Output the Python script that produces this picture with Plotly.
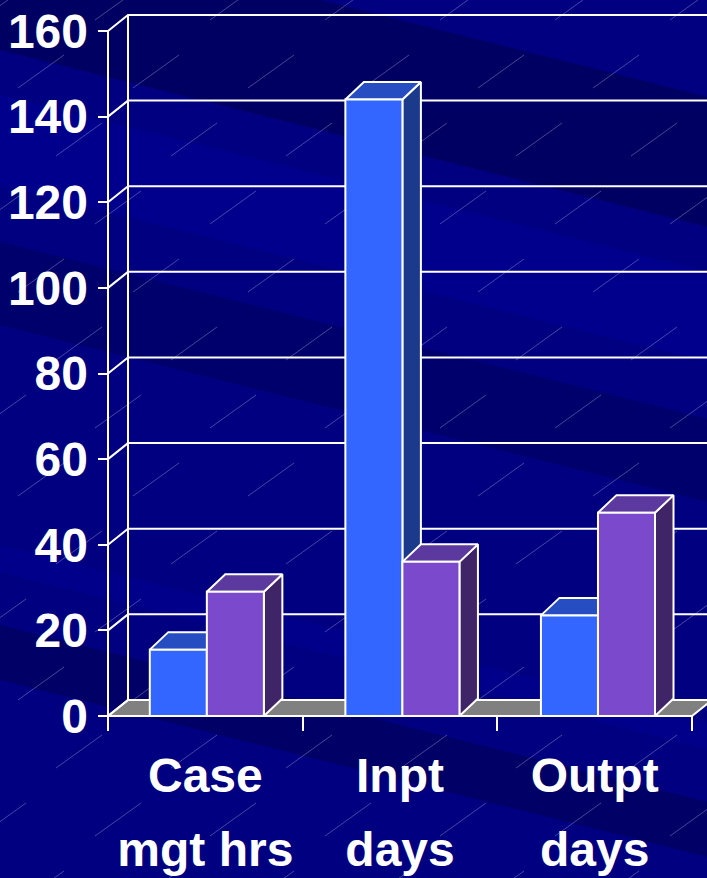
import plotly.graph_objects as go

# ---------------- data ----------------
cat_line1 = ["Case", "Inpt", "Outpt"]
cat_line2 = ["mgt hrs", "days", "days"]
series_a = [15.5, 144, 23.5]   # blue bars
series_b = [29, 36, 47.5]      # purple bars
y_ticks = [0, 20, 40, 60, 80, 100, 120, 140, 160]
y_tick_labels = [str(v) for v in y_ticks]

# ---------------- geometry (data units) ----------------
PX_X = 194.67        # px per category unit
PX_Y = 4.28125       # px per value unit
W_L, W_R, W_T, W_B = 98, 0, 0, 147
FIG_W, FIG_H = 707, 878
x_min = -0.5 - 10 / PX_X
x_max = x_min + (FIG_W - W_L - W_R) / PX_X
y_min = -15 / PX_Y
y_max = y_min + (FIG_H - W_T - W_B) / PX_Y

BAR_W = 0.293
BAR_SHIFT = 1.5 / PX_X
DXB, DYB = 18.5 / PX_X, 17.5 / PX_Y   # bar depth
DXW, DYW = 20 / PX_X, 16 / PX_Y       # wall depth
LEFT, RIGHT = -0.5, 2.5
TOP = y_ticks[-1]

BLUE = dict(front="#3366FF", top="#264DC2", side="#1C3A8C")
PURPLE = dict(front="#7B49CC", top="#5B399E", side="#3F2468")

fig = go.Figure()

# ---------------- background (paper-pixel helpers) ----------------
def px(xp):
    return (xp - W_L) / (FIG_W - W_L - W_R)

def py(yp):
    return (FIG_H - W_B - yp) / (FIG_H - W_T - W_B)

shapes = []
slope = 0.25
bands = [(-80, 50, "#000062"), (95, 185, "#00008C"), (242, 325, "#00006C"),
         (545, 572, "#00008A"), (625, 680, "#000066")]
for y0, y1, col in bands:
    path = (f"M {px(0)} {py(y0)} L {px(FIG_W)} {py(y0 + slope * FIG_W)} "
            f"L {px(FIG_W)} {py(y1 + slope * FIG_W)} L {px(0)} {py(y1)} Z")
    shapes.append(dict(type="path", path=path, xref="paper", yref="paper",
                       fillcolor=col, line=dict(width=0), layer="below"))

for j in range(14):
    for i in range(8):
        x0 = i * 115 + (j % 3) * 38 - 20
        y0 = j * 68 + 20
        shapes.append(dict(type="line", xref="paper", yref="paper",
                           x0=px(x0), y0=py(y0), x1=px(x0 + 46), y1=py(y0 - 33),
                           line=dict(color="rgba(175,175,225,0.4)", width=1),
                           layer="below"))

# ---------------- walls, floor, gridlines ----------------
def add_line(xs, ys, width=2):
    fig.add_trace(go.Scatter(x=xs, y=ys, mode="lines", hoverinfo="skip",
                             line=dict(color="white", width=width), showlegend=False))

# floor
fig.add_trace(go.Scatter(x=[LEFT, RIGHT, RIGHT + DXW, LEFT + DXW, LEFT],
                         y=[0, 0, DYW, DYW, 0], fill="toself", fillcolor="#808080",
                         mode="lines", line=dict(color="white", width=2),
                         hoverinfo="skip", showlegend=False))

gx, gy = [], []
for v in y_ticks:
    gx += [LEFT, LEFT + DXW, x_max + 1, None]
    gy += [v, v + DYW, v + DYW, None]
add_line(gx, gy)
add_line([LEFT + DXW, LEFT + DXW], [DYW, TOP + DYW])
add_line([LEFT, LEFT], [0, TOP])

# ---------------- 3D bars ----------------
def faces(values, offset):
    fx, fy, tx, ty, sx, sy = [], [], [], [], [], []
    for i, v in enumerate(values):
        xl = i - BAR_W + offset * BAR_W + BAR_SHIFT * (1 + i * 0.6)
        xr = xl + BAR_W
        fx += [xl, xr, xr, xl, xl, None]
        fy += [0, 0, v, v, 0, None]
        tx += [xl, xr, xr + DXB, xl + DXB, xl, None]
        ty += [v, v, v + DYB, v + DYB, v, None]
        sx += [xr, xr + DXB, xr + DXB, xr, xr, None]
        sy += [0, DYB, v + DYB, v, 0, None]
    return (fx, fy), (tx, ty), (sx, sy)

for values, offset, pal in [(series_a, 0, BLUE), (series_b, 1, PURPLE)]:
    front, top, side = faces(values, offset)
    for (xs, ys), col in [(side, pal["side"]), (top, pal["top"]), (front, pal["front"])]:
        fig.add_trace(go.Scatter(x=xs, y=ys, fill="toself", fillcolor=col, mode="lines",
                                 line=dict(color="white", width=2),
                                 hoverinfo="skip", showlegend=False))

# invisible trace bound to the second x axis (for the second label line)
fig.add_trace(go.Scatter(x=[0], y=[0], xaxis="x2", mode="markers",
                         marker=dict(opacity=0), hoverinfo="skip", showlegend=False))

FONT = "Liberation Sans Narrow, Arial Narrow, Liberation Sans, Arial"
XFONT = dict(family=FONT, size=48, color="white", weight="bold")

fig.update_layout(
    width=FIG_W, height=FIG_H,
    margin=dict(l=W_L, r=W_R, t=W_T, b=W_B, pad=0),
    paper_bgcolor="#000080", plot_bgcolor="rgba(0,0,0,0)",
    shapes=shapes, showlegend=False,
    font=dict(family=FONT, color="white"),
    xaxis=dict(range=[x_min, x_max], showgrid=False, zeroline=False, showline=False,
               tickmode="array", tickvals=list(range(len(cat_line1))), ticktext=cat_line1,
               ticks="", tickfont=XFONT, ticklabelstandoff=12,
               minor=dict(tickmode="array", tickvals=[-0.5, 0.5, 1.5, 2.5], ticks="inside",
                          ticklen=15, tickwidth=2, tickcolor="white", showgrid=False),
               fixedrange=True),
    xaxis2=dict(range=[x_min, x_max], overlaying="x", anchor="y", side="bottom",
                showgrid=False, zeroline=False, showline=False,
                tickmode="array", tickvals=list(range(len(cat_line2))), ticktext=cat_line2,
                ticks="", tickfont=XFONT, ticklabelstandoff=86, fixedrange=True),
    yaxis=dict(range=[y_min, y_max], showgrid=False, zeroline=False, showline=False,
               tickmode="array", tickvals=y_ticks, ticktext=y_tick_labels,
               ticks="inside", ticklen=10, tickwidth=2, tickcolor="white",
               tickfont=dict(family=FONT, size=48, color="white", weight="bold"),
               ticklabelstandoff=9, fixedrange=True),
)

fig.write_html("out.html",
               config={"displayModeBar": False, "staticPlot": True},
               post_script="document.body.style.margin='0px';"
                           "document.body.style.overflow='hidden';")
